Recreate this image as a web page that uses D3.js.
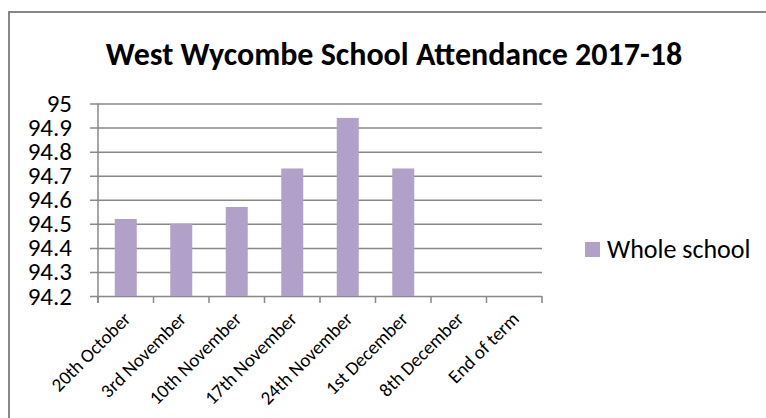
<!DOCTYPE html>
<html>
<head>
  <meta charset="utf-8">
  <style>
    body { margin: 0; background: #fff; }
    svg text { font-family: Carlito, Calibri, Lato, sans-serif; fill: #000; }
    svg .grid { stroke: #898989; stroke-width: 1.5px; }
    svg .bar { fill: #b1a0c7; }
  </style>
</head>
<body>
<script src="https://d3js.org/d3.v7.min.js"></script>
<script>
  // data
  var categories = ["20th October", "3rd November", "10th November", "17th November",
                    "24th November", "1st December", "8th December", "End of term"];
  var wholeSchool = [94.52, 94.50, 94.57, 94.73, 94.94, 94.73, null, null];
  var yTicks = [94.2, 94.3, 94.4, 94.5, 94.6, 94.7, 94.8, 94.9, 95];
  var seriesName = "Whole school";
  var title = "West Wycombe School Attendance 2017-18";

  var W = 766, H = 418;
  var plot = { left: 98, right: 542, top: 103.5, bottom: 296 };

  var svg = d3.select("body").append("svg")
      .attr("width", W)
      .attr("height", H);

  // chart area border (runs off the right and bottom)
  svg.append("rect")
      .attr("x", 9).attr("y", 12)
      .attr("width", W + 10).attr("height", H + 10)
      .style("fill", "none")
      .style("stroke", "#888")
      .style("stroke-width", "2px");

  svg.append("text")
      .attr("x", 394)
      .attr("y", 65)
      .text(title)
      .style("text-anchor", "middle")
      .style("font-weight", "bold")
      .style("font-size", "32px");

  // scales
  var x = d3.scaleBand()
      .domain(categories)
      .range([plot.left, plot.right])
      .paddingInner(0.604)
      .paddingOuter(0.302);
  var y = d3.scaleLinear()
      .domain([94.2, 95])
      .range([plot.bottom, plot.top]);

  // y axis with gridlines
  var yAxis = d3.axisLeft(y)
      .tickValues(yTicks)
      .tickFormat(d3.format("~g"))
      .tickSize(0)
      .tickPadding(26);

  var ya = svg.append("g")
      .attr("transform", "translate(" + plot.left + ",0)")
      .call(yAxis);
  ya.select(".domain").remove();
  ya.selectAll(".tick text")
      .style("font-size", "25px")
      .style("font-family", "Carlito, Calibri, Lato, sans-serif");
  ya.selectAll(".tick")
    .append("line")
      .classed("grid", true)
      .attr("x1", -8)
      .attr("x2", plot.right - plot.left);

  // bars
  svg.selectAll("rect.bar")
      .data(wholeSchool.map(function (v, i) { return { c: categories[i], v: v }; })
                       .filter(function (d) { return d.v != null; }))
    .enter().append("rect")
      .classed("bar", true)
      .attr("x", function (d) { return x(d.c); })
      .attr("y", function (d) { return y(d.v); })
      .attr("width", x.bandwidth())
      .attr("height", function (d) { return plot.bottom - y(d.v); });

  // x axis: boundary ticks, rotated labels
  var step = x.step();
  var bounds = d3.range(0, categories.length + 1).map(function (i) { return plot.left + i * step; });
  svg.selectAll("line.xtick")
      .data(bounds)
    .enter().append("line")
      .classed("grid", true)
      .attr("x1", function (d) { return d; })
      .attr("x2", function (d) { return d; })
      .attr("y1", plot.bottom)
      .attr("y2", plot.bottom + 7);
  svg.append("line")
      .classed("grid", true)
      .attr("x1", plot.left).attr("x2", plot.left)
      .attr("y1", plot.top).attr("y2", plot.bottom + 7);

  svg.selectAll("text.xlab")
      .data(categories)
    .enter().append("text")
      .classed("xlab", true)
      .attr("transform", function (d) {
        return "translate(" + (x(d) + x.bandwidth() / 2 + 6) + "," + (plot.bottom + 24) + ") rotate(-45)";
      })
      .text(function (d) { return d; })
      .style("text-anchor", "end")
      .style("font-size", "19px");

  // legend
  var lg = svg.append("g").attr("transform", "translate(585,242)");
  lg.append("rect")
      .classed("bar", true)
      .attr("width", 15)
      .attr("height", 15);
  lg.append("text")
      .attr("x", 22)
      .attr("y", 16)
      .text(seriesName)
      .style("font-size", "26px");
</script>
</body>
</html>
